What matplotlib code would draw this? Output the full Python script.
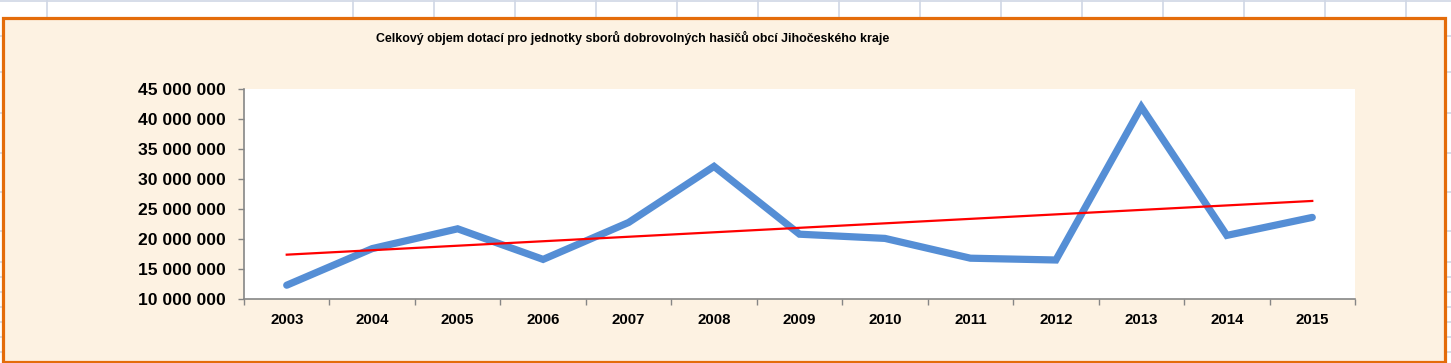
import numpy as np
import matplotlib
matplotlib.use("Agg")
import matplotlib.pyplot as plt
from matplotlib.patches import Rectangle
from matplotlib.lines import Line2D
from matplotlib.ticker import FuncFormatter, FixedLocator

# data (values in CZK)
years = ["2003", "2004", "2005", "2006", "2007", "2008", "2009",
         "2010", "2011", "2012", "2013", "2014", "2015"]
dotace = [12300000, 18400000, 21700000, 16600000, 22750000, 32100000, 20800000,
          20100000, 16800000, 16500000, 42000000, 20600000, 23600000]
y_ticks = [10000000, 15000000, 20000000, 25000000, 30000000, 35000000, 40000000, 45000000]
title = "Celkový objem dotací pro jednotky sborů dobrovolných hasičů obcí Jihočeského kraje"

W, H = 1451, 363
plt.rcParams['font.family'] = ['Liberation Sans', 'DejaVu Sans']

fig = plt.figure(figsize=(W / 100, H / 100), dpi=100)
fig.patch.set_facecolor("white")

def fx(px):
	return px / W

def fy(py):
	return 1 - py / H

# spreadsheet grid behind the chart
grid_c = "#D0D7E5"
fig.add_artist(Line2D([0, 1], [fy(1), fy(1)], color=grid_c, lw=1.2, zorder=-3))
for gx in [47] + [353 + 81 * k for k in range(14)]:
	fig.add_artist(Line2D([fx(gx), fx(gx)], [0, 1], color=grid_c, lw=1.2, zorder=-3))
for gy in [36, 72, 113, 153, 192, 231, 262, 277, 292, 307, 322, 337, 352]:
	fig.add_artist(Line2D([0, 1], [fy(gy), fy(gy)], color=grid_c, lw=1.2, zorder=-3))

# chart area
fig.add_artist(Rectangle((fx(2.5), fy(362)), fx(1444.5) - fx(2.5), fy(17.5) - fy(362),
                         facecolor="#FDF2E2", edgecolor="#E46C0A", lw=2.3, zorder=-2))

fig.text(fx(633), fy(38), title, ha="center", va="center", fontsize=8.9, fontweight="bold")

ax = fig.add_axes([fx(244), fy(299), fx(1355) - fx(244), fy(89) - fy(299)])
ax.set_facecolor("white")

x = np.arange(len(years))
ax.plot(x, dotace, color="#558ED5", lw=5.2, solid_joinstyle="miter", solid_capstyle="round", zorder=3)

# linear trend
k, q = np.polyfit(x, dotace, 1)
ax.plot(x, k * x + q, color="#FF0000", lw=1.6, zorder=4)

ax.set_xlim(-0.5, len(years) - 0.5)
ax.set_ylim(y_ticks[0], y_ticks[-1])

ax.set_yticks(y_ticks)
ax.yaxis.set_major_formatter(FuncFormatter(lambda v, p: "{:,.0f}".format(v).replace(",", " ")))
ax.set_xticks(x)
ax.set_xticklabels(years)
ax.xaxis.set_minor_locator(FixedLocator(np.arange(-0.5, len(years), 1.0)))

for s in ["top", "right"]:
	ax.spines[s].set_visible(False)
for s in ["left", "bottom"]:
	ax.spines[s].set_color("#868686")
	ax.spines[s].set_linewidth(1.2)

ax.tick_params(axis="x", which="major", length=0, pad=10, labelsize=10.8)
ax.tick_params(axis="x", which="minor", length=4, width=1, color="#868686", direction="out")
ax.tick_params(axis="y", length=4, width=1, color="#868686", pad=9, labelsize=12.6)
for lab in ax.get_xticklabels() + ax.get_yticklabels():
	lab.set_fontweight("bold")

fig.savefig("out.png", dpi=100)
